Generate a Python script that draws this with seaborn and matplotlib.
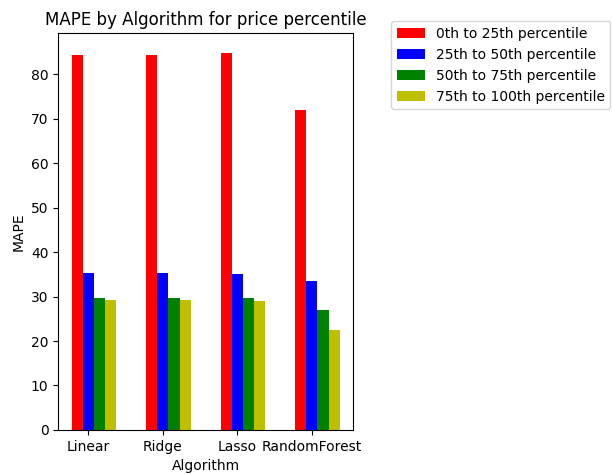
import numpy as np
import pandas as pd
import matplotlib
matplotlib.use('Agg')
import matplotlib.pyplot as plt
import seaborn as sns

# ========== data ==========
algorithms = ['Linear', 'Ridge', 'Lasso', 'RandomForest']
percentiles = ['0th to 25th percentile', '25th to 50th percentile',
               '50th to 75th percentile', '75th to 100th percentile']
mape_0_25 = [84.5, 84.5, 84.8, 72.0]
mape_25_50 = [35.4, 35.4, 35.1, 33.6]
mape_50_75 = [29.8, 29.8, 29.7, 26.9]
mape_75_100 = [29.3, 29.3, 29.1, 22.5]
colors = ['r', 'b', 'g', 'y']

rows = []
for pct, vals in zip(percentiles, [mape_0_25, mape_25_50, mape_50_75, mape_75_100]):
    for alg, v in zip(algorithms, vals):
        rows.append({'Algorithm': alg, 'MAPE': v, 'Percentile': pct})
df = pd.DataFrame(rows)

fig = plt.figure(figsize=(6.12, 4.74), dpi=100)
ax = fig.add_axes([0.095, 0.093, 0.482, 0.837])

sns.barplot(data=df, x='Algorithm', y='MAPE', hue='Percentile',
            hue_order=percentiles, order=algorithms,
            palette=colors, width=0.6, saturation=1, ax=ax)

# ticks sit under the second bar of each group, as in the original
ax.set_xticks(np.arange(len(algorithms)) - 0.075)
ax.set_xticklabels(algorithms)
ax.set_xlim(-0.48, 3.48)
ax.set_ylim(0, 89.3)
ax.set_xlabel('Algorithm', fontsize=10)
ax.set_ylabel('MAPE', fontsize=10)
ax.tick_params(labelsize=10)
ax.set_title('MAPE by Algorithm for price percentile', fontsize=12)

ax.legend(loc='upper left', bbox_to_anchor=(0.628, 0.97),
          bbox_transform=fig.transFigure, fontsize=10)

fig.savefig('out.png', dpi=100)
